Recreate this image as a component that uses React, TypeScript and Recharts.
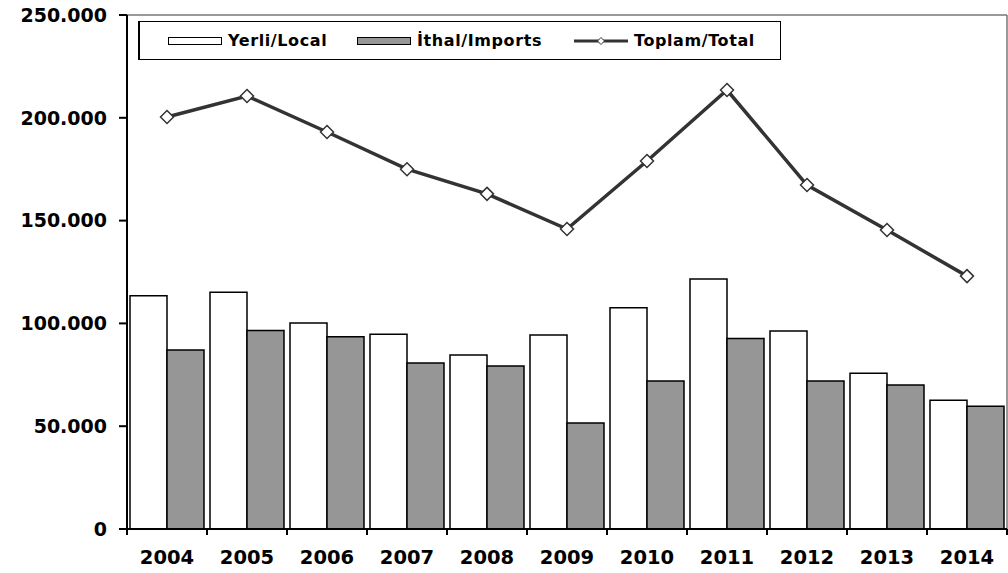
import { Bar, CartesianGrid, ComposedChart, Line, XAxis, YAxis } from "recharts";

const YEARS = ["2004", "2005", "2006", "2007", "2008", "2009", "2010", "2011", "2012", "2013", "2014"];
const LOCAL = [113500, 115100, 100200, 94700, 84600, 94400, 107600, 121600, 96300, 75700, 62600];
const IMPORTS = [87100, 96500, 93500, 80700, 79300, 51600, 72000, 92600, 72000, 70000, 59700];
const TOTAL = [200400, 210600, 193100, 175000, 163000, 145900, 179000, 213500, 167300, 145400, 123000];
const Y_TICKS = [0, 50000, 100000, 150000, 200000, 250000];
const NAMES = { local: "Yerli/Local", imports: "İthal/Imports", total: "Toplam/Total" };

const W = 1008;
const H = 573;
const M = { top: 15, right: 1, left: 0, bottom: 0 };
const Y_W = 127;
const X_H = 44;
const PLOT_W = W - Y_W - M.right;
const CAT_W = PLOT_W / YEARS.length;
const FONT = "'DejaVu Sans', Verdana, sans-serif";

const data = YEARS.map((year, i) => ({ year, local: LOCAL[i], imports: IMPORTS[i], total: TOTAL[i] }));

const fmt = (v: number) => String(v).replace(/\B(?=(\d{3})+(?!\d))/g, ".");

function XTick(props: any) {
  const { x, y, payload, index } = props;
  const left = x - CAT_W / 2;
  return (
    <g>
      <line x1={left} x2={left} y1={y} y2={y + 6} stroke="#000" strokeWidth={2} />
      {index === YEARS.length - 1 && (
        <line x1={left + CAT_W} x2={left + CAT_W} y1={y} y2={y + 6} stroke="#000" strokeWidth={2} />
      )}
      <text x={x} y={y + 35} textAnchor="middle" fontSize={19.5} fontWeight="bold" fontFamily={FONT} fill="#000">
        {payload.value}
      </text>
    </g>
  );
}

function Diamond(props: any) {
  const { cx, cy } = props;
  const r = 6.5;
  return (
    <path
      d={`M${cx},${cy - r}L${cx + r},${cy}L${cx},${cy + r}L${cx - r},${cy}Z`}
      fill="#fff"
      stroke="#333"
      strokeWidth={1.5}
    />
  );
}

// legend items placed where the reference has them (page x of each swatch)
function LegendBox() {
  const text = { fontSize: 16, fontWeight: "bold" as const, fontFamily: FONT, letterSpacing: 0.6, marginLeft: 6 };
  const item = (x: number) => ({
    position: "absolute" as const,
    left: x - 141,
    top: 0,
    height: 37,
    display: "flex",
    alignItems: "center",
    whiteSpace: "nowrap" as const,
  });
  const swatch = (bg: string) => (
    <span style={{ display: "inline-block", width: 52, height: 6, background: bg, border: "1px solid #000" }} />
  );
  return (
    <div
      style={{
        position: "absolute",
        left: 138,
        top: 21,
        width: 640,
        height: 37,
        border: "1px solid #000",
        borderLeftWidth: 2,
        background: "#fff",
      }}
    >
      <span style={item(169)}>
        {swatch("#fff")}
        <span style={text}>{NAMES.local}</span>
      </span>
      <span style={item(358)}>
        {swatch("#969696")}
        <span style={text}>{NAMES.imports}</span>
      </span>
      <span style={item(575)}>
        <svg width={54} height={12}>
          <line x1={0} x2={54} y1={6} y2={6} stroke="#333" strokeWidth={3} />
          <path d="M27,2.5L30.5,6L27,9.5L23.5,6Z" fill="#fff" stroke="#333" strokeWidth={1} />
        </svg>
        <span style={text}>{NAMES.total}</span>
      </span>
    </div>
  );
}

export default function App() {
  return (
    <div style={{ position: "absolute", left: 0, top: 0, width: W, height: H, background: "#fff" }}>
      <ComposedChart width={W} height={H} data={data} margin={M} barCategoryGap={3} barGap={0}>
        <CartesianGrid
          stroke="#777"
          strokeWidth={1.5}
          horizontalCoordinatesGenerator={({ offset }: any) => [offset.top]}
          verticalCoordinatesGenerator={({ offset }: any) => [offset.left + offset.width]}
        />
        <XAxis
          dataKey="year"
          height={X_H}
          axisLine={{ stroke: "#000", strokeWidth: 2 }}
          tickLine={false}
          tickSize={0}
          tickMargin={0}
          interval={0}
          tick={<XTick />}
        />
        <YAxis
          width={Y_W}
          domain={[0, 250000]}
          ticks={Y_TICKS}
          tickFormatter={fmt}
          axisLine={{ stroke: "#000", strokeWidth: 2 }}
          tickLine={{ stroke: "#000", strokeWidth: 2 }}
          tickSize={8}
          tickMargin={12}
          tick={{ fontSize: 19, fontWeight: "bold", fontFamily: FONT, fill: "#000" }}
        />
        <Bar dataKey="local" name={NAMES.local} fill="#fff" stroke="#000" strokeWidth={1.5} isAnimationActive={false} />
        <Bar dataKey="imports" name={NAMES.imports} fill="#969696" stroke="#000" strokeWidth={1.5} isAnimationActive={false} />
        <Line
          dataKey="total"
          name={NAMES.total}
          stroke="#333"
          strokeWidth={3.5}
          dot={<Diamond />}
          activeDot={false}
          isAnimationActive={false}
        />
      </ComposedChart>
      <LegendBox />
    </div>
  );
}
